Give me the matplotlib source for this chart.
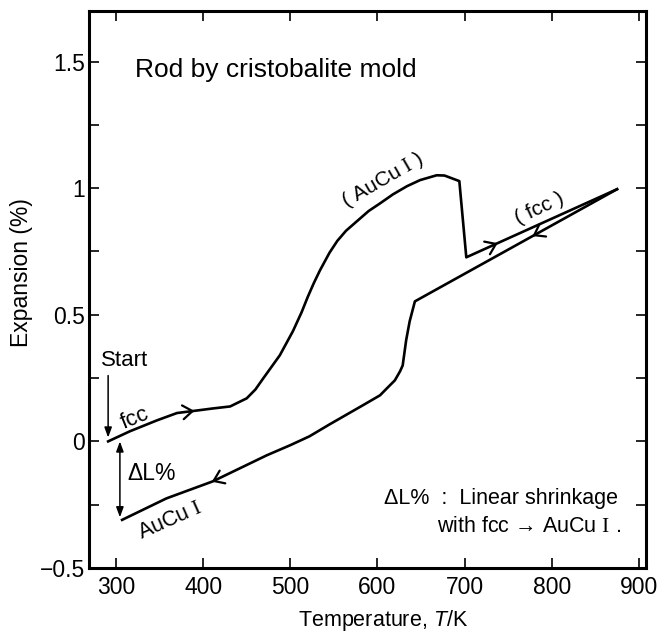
import numpy as np
import matplotlib
matplotlib.use("Agg")
import matplotlib.pyplot as plt
from matplotlib.ticker import MultipleLocator, FuncFormatter

plt.rcParams['font.family'] = ['Liberation Sans', 'Noto Sans CJK JP', 'DejaVu Sans']
plt.rcParams['mathtext.fontset'] = 'custom'
plt.rcParams['mathtext.rm'] = 'Liberation Serif'
plt.rcParams['mathtext.it'] = 'Liberation Sans:italic'
plt.rcParams['mathtext.sf'] = 'Liberation Sans'

# Heating curve (fcc -> AuCu I -> fcc)
heat_T = [291, 316, 347, 370, 393, 411, 431, 450, 460, 469, 488, 503, 513, 520, 527, 534, 545,
          554, 564, 578, 590, 603, 618, 634, 649, 668, 677, 694, 702, 875]
heat_E = [0.0, 0.04, 0.083, 0.112, 0.122, 0.13, 0.138, 0.17, 0.205, 0.249, 0.34, 0.435,
          0.51, 0.57, 0.625, 0.675, 0.745, 0.792, 0.832, 0.874, 0.91, 0.94, 0.976, 1.008,
          1.032, 1.051, 1.05, 1.028, 0.727, 0.996]

# Cooling curve (fcc -> AuCu I)
cool_T = [875, 643, 637, 633, 629, 626, 620, 611, 603, 583, 545, 522, 500, 473, 411, 358, 307]
cool_E = [0.996, 0.553, 0.474, 0.40, 0.30, 0.277, 0.241, 0.21, 0.182, 0.142, 0.067, 0.02,
          -0.015, -0.055, -0.158, -0.225, -0.31]

x_ticks = [300, 400, 500, 600, 700, 800, 900]
y_ticks = [-0.5, 0, 0.5, 1, 1.5]

fig = plt.figure(figsize=(6.59, 6.33), dpi=100)
ax = fig.add_axes([0.135, 0.1027, 0.845, 0.88])

lw = 1.9
ax.plot(heat_T, heat_E, color='black', lw=lw, solid_joinstyle='round')
ax.plot(cool_T, cool_E, color='black', lw=lw, solid_joinstyle='round')

def open_arrow(Ts, Es, t0, direction):
    # chevron arrowhead placed on the curve at temperature t0
    order = np.argsort(Ts)
    T = np.array(Ts)[order]
    E = np.array(Es)[order]
    dt = 3 * direction
    e0 = np.interp(t0 - dt, T, E)
    e1 = np.interp(t0, T, E)
    ax.annotate('', xy=(t0, e1), xytext=(t0 - dt, e0),
                arrowprops=dict(arrowstyle='->,head_length=0.7,head_width=0.5',
                                color='black', lw=1.6, shrinkA=0, shrinkB=0))

open_arrow(heat_T[:7], heat_E[:7], 390, +1)
open_arrow(heat_T[-2:], heat_E[-2:], 738, +1)
open_arrow(cool_T[:2], cool_E[:2], 778, -1)
open_arrow(cool_T[-4:], cool_E[-4:], 410, -1)

ax.set_xlim(269, 908)
ax.set_ylim(-0.5, 1.7)
ax.set_xticks(x_ticks)
ax.set_yticks(y_ticks)
ax.yaxis.set_minor_locator(MultipleLocator(0.25))
ax.yaxis.set_major_formatter(FuncFormatter(lambda v, p: ('%g' % v).replace('-', '\u2212')))
ax.tick_params(axis='both', which='both', direction='in', top=True, right=True,
               length=7, width=1.2, labelsize=16.5)
ax.tick_params(axis='x', pad=6)
ax.tick_params(axis='y', pad=3)
for s in ax.spines.values():
    s.set_linewidth(2.2)

ax.set_xlabel('Temperature, $\\mathit{T}$/K', fontsize=15.5)
ax.xaxis.set_label_coords(0.528, -0.072)
ax.set_ylabel('Expansion (%)', fontsize=16.5)
ax.yaxis.set_label_coords(-0.10, 0.53)

ax.text(322, 1.466, 'Rod by cristobalite mold', fontsize=19, ha='left', va='center')

# Start arrow
ax.text(310, 0.32, 'Start', fontsize=16, ha='center', va='center')
ax.annotate('', xy=(291, 0.015), xytext=(291, 0.26),
            arrowprops=dict(arrowstyle='-|>,head_length=0.6,head_width=0.22',
                            color='black', lw=1.1, shrinkA=0, shrinkB=0))
# Delta L double arrow
ax.annotate('', xy=(304.5, -0.30), xytext=(304.5, 0.0),
            arrowprops=dict(arrowstyle='<|-|>,head_length=0.6,head_width=0.22',
                            color='black', lw=1.1, shrinkA=0, shrinkB=0))
ax.text(341, -0.127, '\u0394L%', fontsize=16.5, ha='center', va='center')

ax.text(322, 0.09, 'fcc', fontsize=16, ha='center', va='center', rotation=22)
ax.text(362, -0.31, 'AuCu $\\mathrm{I}$', fontsize=15.5, ha='center', va='center', rotation=24)
ax.text(606, 1.03, '( AuCu $\\mathrm{I}$ )', fontsize=15, ha='center', va='center', rotation=30)
ax.text(786, 0.92, '( fcc )', fontsize=15, ha='center', va='center', rotation=25)

ax.text(876, -0.225, '\u0394L%  :  Linear shrinkage', fontsize=15.5, ha='right', va='center')
ax.text(880, -0.336, 'with fcc \u2192 AuCu $\\mathrm{I}$ .', fontsize=15.5, ha='right', va='center')

fig.savefig('out.png', dpi=100)
